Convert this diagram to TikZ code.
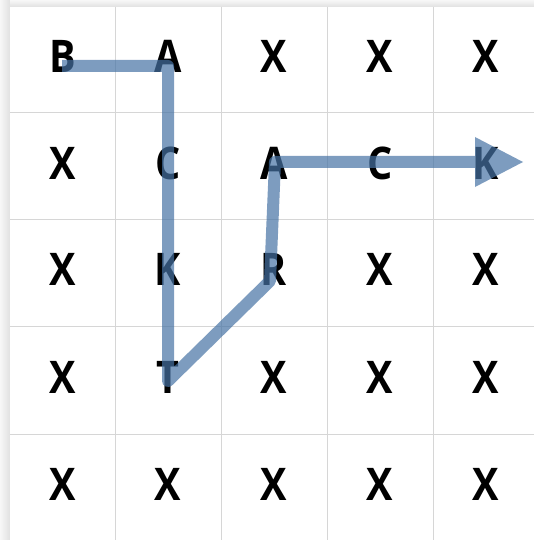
\documentclass[tikz,border=0pt]{standalone}
\usepackage{fontspec}
\newfontfamily\gridfont[FakeStretch=0.88]{Open Sans}
\usetikzlibrary{arrows.meta}
\definecolor{gridline}{RGB}{214,214,214}
\definecolor{pathblue}{RGB}{70,115,165}
\tikzset{
  letter/.style={anchor=base, inner sep=0pt, font=\gridfont\fontsize{45}{45}\selectfont\bfseries, text=black},
  gridrule/.style={draw=gridline, line width=1pt},
  wordpath/.style={draw=pathblue, line width=12pt, line join=round, line cap=butt,
    -{Triangle[length=48pt, width=50pt, line width=0pt]}}
}
\begin{document}
\begin{tikzpicture}[x=1pt, y=-1pt]
  \useasboundingbox (0,0) rectangle (534,540);
  % drop shadow of the sheet
  \fill[white] (0,0) rectangle (534,540);
  \shade[left color=gray!6, right color=gray!24] (0,0) rectangle (10,540);
  \shade[top color=gray!6, bottom color=gray!24] (10,0) rectangle (534,7);
  \fill[white] (10,7) rectangle (534,540);
  % grid
  \foreach \x in {115,221,327,433} \draw[gridrule] (\x,7) -- (\x,540);
  \foreach \y in {113,219,326,434} \draw[gridrule] (10,\y) -- (534,\y);
  % letters
  \def\cols{{62.5,168,274,380,486}}
  \def\rows{{73,179,285.5,393,500}}
  \foreach \r/\row in {1/{B,A,X,X,X}, 2/{X,C,A,C,K}, 3/{X,K,R,X,X}, 4/{X,T,X,X,X}, 5/{X,X,X,X,X}} {
    \foreach \ch [count=\c] in \row {
      \pgfmathsetmacro{\cx}{\cols[\c-1]}
      \pgfmathsetmacro{\cy}{\rows[\r-1]}
      \node[letter] (l\r\c) at (\cx,\cy) {\ch};
    }
  }
  % word path, translucent over the letters
  \coordinate (p1) at (62,66);
  \coordinate (p2) at (168,66);
  \coordinate (p3) at (168,381);
  \coordinate (p4) at (270,281);
  \coordinate (p5) at (275,162);
  \coordinate (p6) at (523,162);
  \begin{scope}[transparency group, opacity=0.7]
    \draw[wordpath] (p1) -- (p2) -- (p3) -- (p4) -- (p5) -- (p6);
  \end{scope}
\end{tikzpicture}
\end{document}
